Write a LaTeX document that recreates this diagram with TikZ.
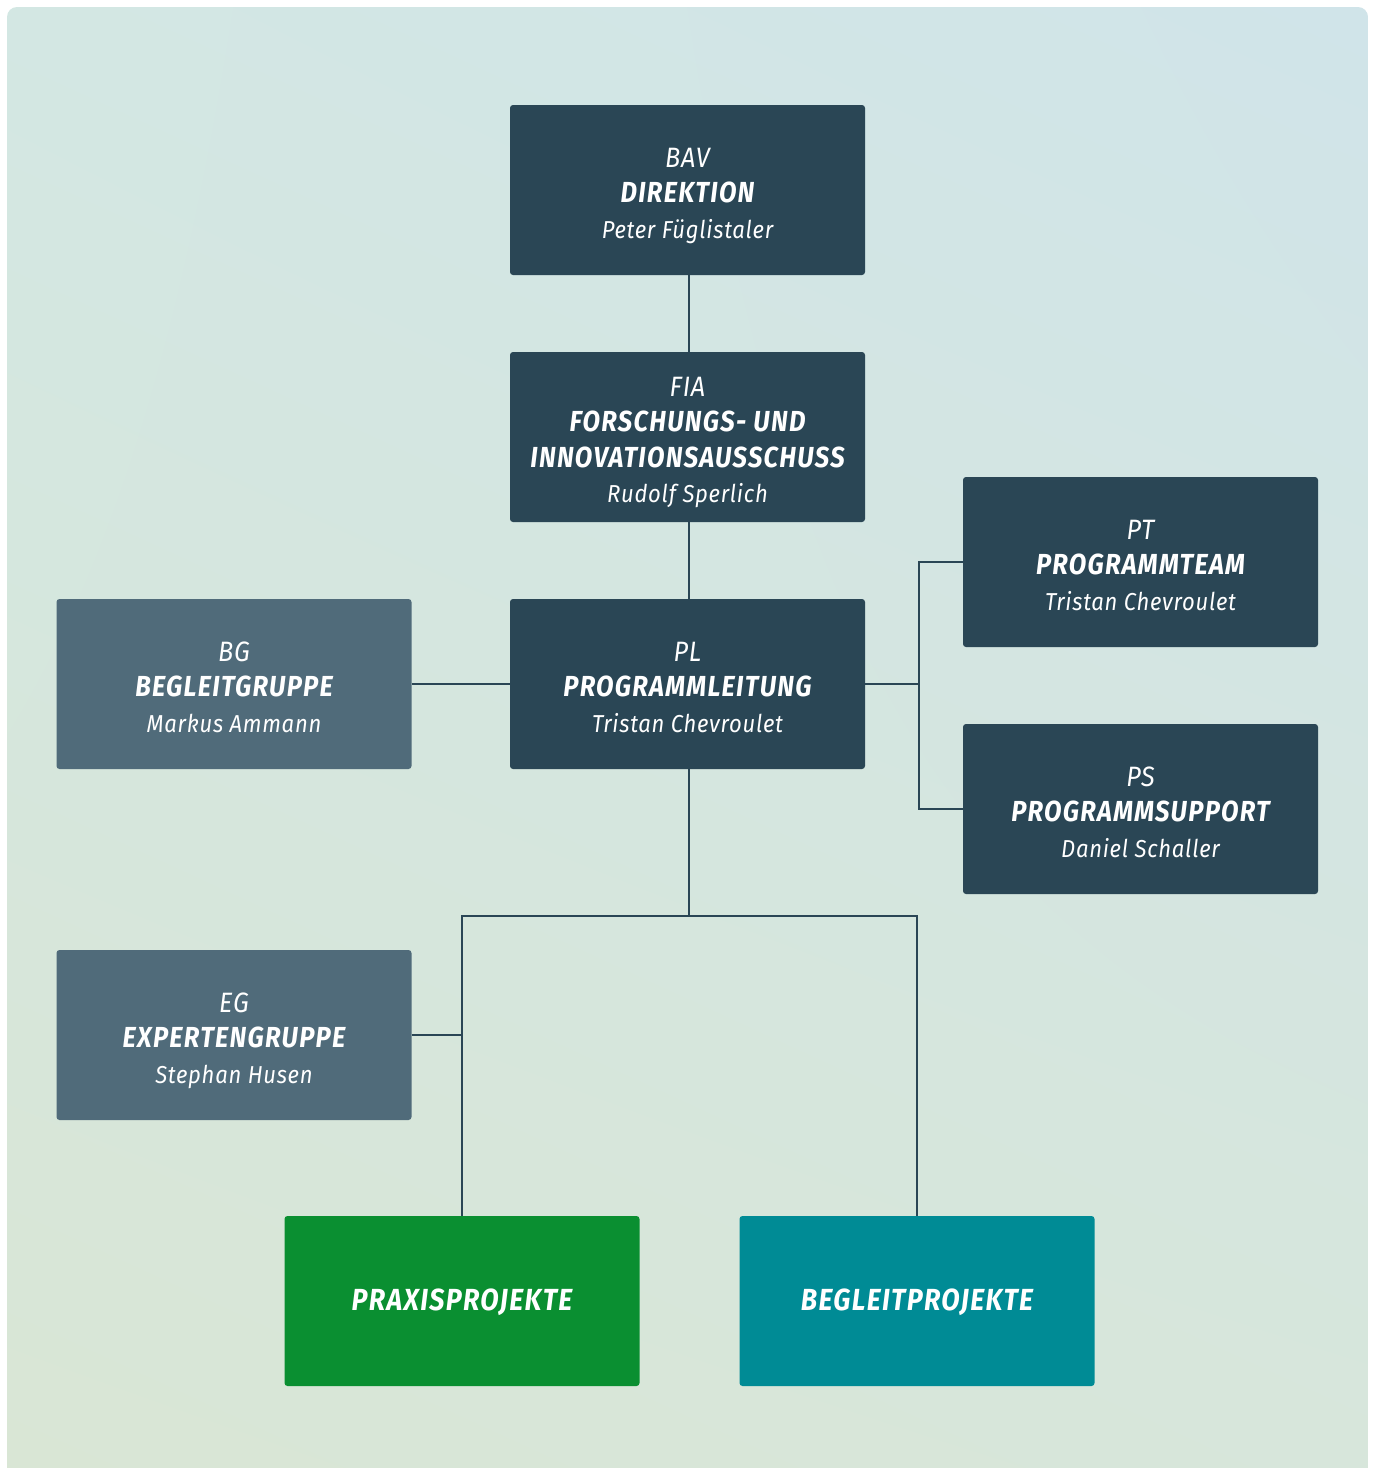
\documentclass[tikz,border=0pt]{standalone}
\usepackage{fontspec}
\usetikzlibrary{shadings}
\setmainfont{Fira Sans}
\newfontfamily\boldfam{Fira Sans}[FakeStretch=0.88,LetterSpace=4.5]
\newfontfamily\lightfam{Fira Sans}[FakeStretch=0.9,LetterSpace=3]
\definecolor{boxdark}{HTML}{2A4655}
\definecolor{boxmid}{HTML}{506B7A}
\definecolor{boxgreen}{HTML}{0A8F31}
\definecolor{boxteal}{HTML}{008B95}
\definecolor{linecol}{HTML}{2A4655}
\definecolor{bgUL}{HTML}{D3E7E3}
\definecolor{bgUR}{HTML}{D0E4E9}
\definecolor{bgLL}{HTML}{D9E6D5}
\definecolor{bgLR}{HTML}{D7E6DB}
\newcommand\topst{\rule{0pt}{33pt}}
\newcommand\botst{\rule[-8pt]{0pt}{8pt}}
\newcommand\abv[1]{{\lightfam\itshape\fontsize{28}{35.5}\selectfont\topst #1}}
\newcommand\ttlx[1]{{\boldfam\bfseries\itshape\fontsize{29}{35.5}\selectfont #1}}
\newcommand\ttlb[1]{{\boldfam\bfseries\itshape\fontsize{30.5}{35.5}\selectfont\rule[-6pt]{0pt}{31pt}#1}}
\newcommand\pnm[1]{{\lightfam\itshape\fontsize{24.5}{35.5}\selectfont #1\botst}}
\tikzset{
  orgbox/.style={rectangle, rounded corners=3pt, minimum width=355pt, minimum height=170pt,
    text=white, align=center, inner sep=0pt, font=\fontsize{24}{35.5}\selectfont},
  dark/.style={orgbox, fill=boxdark},
  mid/.style={orgbox, fill=boxmid},
  link/.style={draw=linecol, line width=1.4pt}
}
\begin{document}
\begin{tikzpicture}[x=1pt,y=-1pt]
\useasboundingbox (0,0) rectangle (1376,1468);
\fill[white] (0,0) rectangle (1376,1468);
\shade[upper left=bgUL, upper right=bgUR, lower left=bgLL, lower right=bgLR]
  (7,1468) [rounded corners=10pt] -- (7,7) -- (1368,7) [sharp corners] -- (1368,1468) -- cycle;

\node[dark] (bav) at (687.5,190) {\abv{BAV}\\\ttlx{DIREKTION}\\\pnm{Peter Füglistaler}};
\node[dark] (fia) at (687.5,437) {\abv{FIA}\\\ttlx{FORSCHUNGS- UND}\\\ttlx{INNOVATIONSAUSSCHUSS}\\\pnm{Rudolf Sperlich}};
\node[dark] (pl) at (687.5,684) {\abv{PL}\\\ttlx{PROGRAMMLEITUNG}\\\pnm{Tristan Chevroulet}};
\node[mid] (bg) at (234,684) {\abv{BG}\\\ttlx{BEGLEITGRUPPE}\\\pnm{Markus Ammann}};
\node[dark] (pt) at (1140.5,562) {\abv{PT}\\\ttlx{PROGRAMMTEAM}\\\pnm{Tristan Chevroulet}};
\node[dark] (ps) at (1140.5,809) {\abv{PS}\\\ttlx{PROGRAMMSUPPORT}\\\pnm{Daniel Schaller}};
\node[mid] (eg) at (234,1035) {\abv{EG}\\\ttlx{EXPERTENGRUPPE}\\\pnm{Stephan Husen}};
\node[orgbox, fill=boxgreen] (prx) at (462,1301) {\ttlb{PRAXISPROJEKTE}};
\node[orgbox, fill=boxteal] (bgp) at (917,1301) {\ttlb{BEGLEITPROJEKTE}};

\coordinate (rj) at (919,684);
\coordinate (bj) at (689,916);
\draw[link] (bav.south -| bj) -- (fia.north -| bj);
\draw[link] (fia.south -| bj) -- (pl.north -| bj);
\draw[link] (bg.east) -- (pl.west);
\draw[link] (pl.east) -- (rj);
\draw[link] (pt.west) -| (rj) |- (ps.west);
\draw[link] (pl.south -| bj) -- (bj);
\draw[link] (prx.north) |- (bj);
\draw[link] (bgp.north) |- (bj);
\draw[link] (eg.east) -- (eg.east -| prx.north);
\end{tikzpicture}
\end{document}
